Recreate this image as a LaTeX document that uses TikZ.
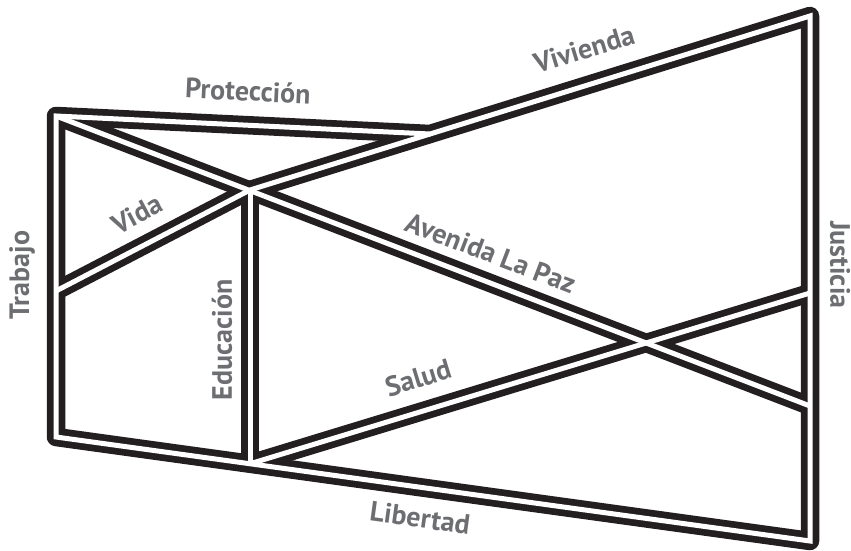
\documentclass[tikz,border=0pt]{standalone}
\usepackage{fontspec}
\setmainfont{PT Sans}
\definecolor{ink}{HTML}{231F20}
\definecolor{lbl}{HTML}{6D6E71}
\begin{document}
\begin{tikzpicture}[x=1pt,y=-1pt,
  lab/.style={text=lbl,font=\bfseries\fontsize{28}{28}\selectfont,inner sep=0pt},
  streetblack/.style={draw=ink,line width=18.5pt,line join=round},
  streetwhite/.style={draw=white,line width=5pt,line join=miter}]
\useasboundingbox (0,0) rectangle (851,551);
\coordinate (TL) at (56,116);
\coordinate (P) at (430,134);
\coordinate (TR) at (810,16);
\coordinate (BR) at (810,541);
\coordinate (BL) at (56,437);
\coordinate (C1) at (250,190);
\coordinate (VL) at (56,291);
\coordinate (AE) at (810,406);
\coordinate (EB) at (250,463.8);
\coordinate (SE) at (810,293);
% black borders
\path[streetblack] (TL) -- (P) -- (TR) -- (BR) -- (BL) -- cycle;
\path[streetblack] (C1) -- (P);
\path[streetblack] (TL) -- (AE);
\path[streetblack] (VL) -- (C1);
\path[streetblack] (C1) -- (EB);
\path[streetblack] (EB) -- (SE);
% white channels
\path[streetwhite] (TL) -- (P) -- (TR) -- (BR) -- (BL) -- cycle;
\path[streetwhite] (C1) -- (P);
\path[streetwhite] (TL) -- (AE);
\path[streetwhite] (VL) -- (C1);
\path[streetwhite] (C1) -- (EB);
\path[streetwhite] (EB) -- (SE);
% labels
\node[lab,rotate=-2.7] (proteccion) at (248,91) {Protección};
\node[lab,rotate=17] (vivienda) at (584,49) {Vivienda};
\node[lab,rotate=28] (vida) at (137,214) {Vida};
\node[lab,rotate=-21] (avenida) at (491,253) {Avenida La Paz};
\node[lab,rotate=17] (salud) at (418,378) {Salud};
\node[lab,rotate=-7.8] (libertad) at (420,518) {Libertad};
\node[lab,rotate=90] (educacion) at (222,340) {Educación};
\node[lab,rotate=90] (trabajo) at (22,275) {Trabajo};
\node[lab,rotate=-90] (justicia) at (840,265) {Justicia};
\end{tikzpicture}
\end{document}
